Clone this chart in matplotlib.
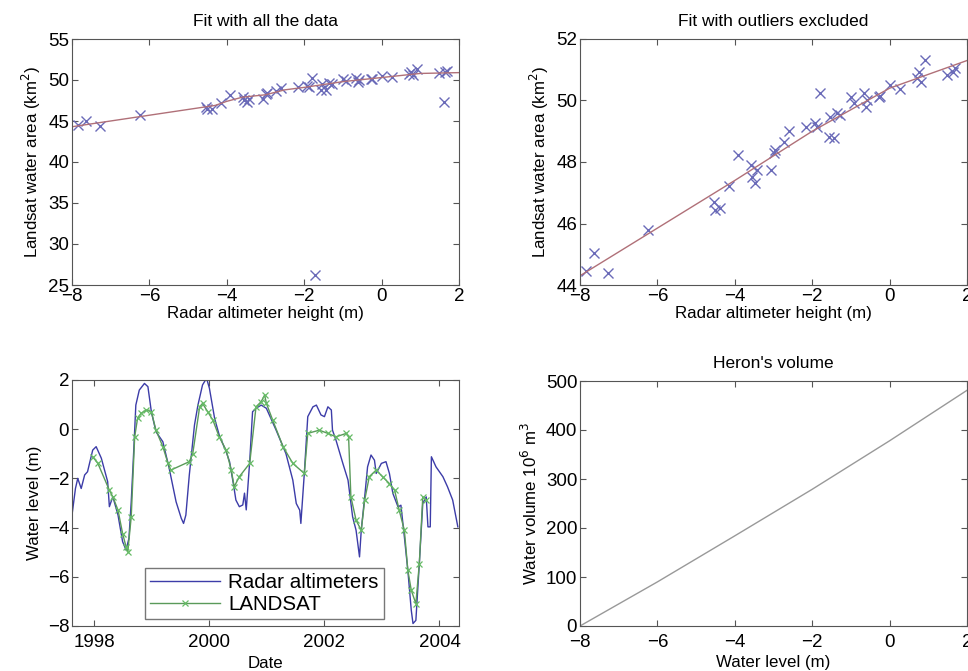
import numpy as np
import matplotlib
matplotlib.use("Agg")
import matplotlib.pyplot as plt

plt.rcParams["font.family"] = ["Liberation Sans", "DejaVu Sans"]

# --- scatter: radar altimeter height (m) vs Landsat water area (km2) ---
radar_h = [-7.85, -7.64, -7.28, -6.24, -4.54, -4.50, -4.37, -4.15, -3.92, -3.59,
           -3.55, -3.47, -3.42, -3.06, -2.99, -2.95, -2.73, -2.60, -2.17, -1.92,
           -1.87, -1.79, -1.57, -1.53, -1.44, -1.36, -1.27, -1.01, -0.93, -0.67,
           -0.62, -0.58, -0.28, -0.24, 0.00, 0.28, 0.71, 0.76, 0.80, 0.92,
           1.48, 1.65, 1.70]
landsat_area = [44.47, 45.03, 44.38, 45.79, 46.71, 46.44, 46.49, 47.23, 48.22, 47.90,
                47.52, 47.33, 47.74, 47.74, 48.28, 48.39, 48.66, 49.01, 49.15, 49.28,
                49.15, 50.23, 48.80, 49.47, 48.77, 49.58, 49.53, 50.12, 49.91, 50.23,
                49.80, 50.02, 50.12, 50.15, 50.50, 50.36, 50.72, 50.94, 50.61, 51.32,
                50.83, 50.94, 51.05]
outlier_h = [-1.72, 1.62]
outlier_area = [26.2, 47.3]

# fitted curves
fit_all_x = [-8, -4.3, -4.0, -3.6, -3.0, -2.5, -2.0, -1.0, 0.0, 1.0, 2.0]
fit_all_y = [44.3, 46.9, 47.4, 47.9, 48.2, 48.8, 49.1, 49.8, 50.3, 50.8, 50.9]
fit_excl_x = [-8, -6, -4, -2, 0, 2]
fit_excl_y = [44.3, 45.85, 47.4, 49.0, 50.4, 51.3]

# --- water level time series ---
radar_t = [1997.61, 1997.67, 1997.71, 1997.77, 1997.83, 1997.88, 1997.97, 1998.03,
           1998.12, 1998.23, 1998.26, 1998.32, 1998.41, 1998.49, 1998.55, 1998.60,
           1998.64, 1998.68, 1998.72, 1998.78, 1998.87, 1998.93, 1998.99, 1999.07,
           1999.19, 1999.30, 1999.36, 1999.42, 1999.51, 1999.55, 1999.59, 1999.65,
           1999.74, 1999.80, 1999.88, 1999.95, 2000.00, 2000.09, 2000.17, 2000.29,
           2000.35, 2000.42, 2000.46, 2000.52, 2000.58, 2000.61, 2000.64, 2000.70,
           2000.75, 2000.81, 2000.90, 2000.99, 2001.16, 2001.33, 2001.45, 2001.51,
           2001.57, 2001.59, 2001.65, 2001.71, 2001.80, 2001.86, 2001.94, 2002.00,
           2002.06, 2002.12, 2002.14, 2002.20, 2002.32, 2002.41, 2002.49, 2002.55,
           2002.61, 2002.64, 2002.70, 2002.75, 2002.81, 2002.87, 2002.90, 2002.99,
           2003.07, 2003.13, 2003.19, 2003.28, 2003.33, 2003.39, 2003.45, 2003.51,
           2003.54, 2003.59, 2003.65, 2003.71, 2003.77, 2003.80, 2003.84, 2003.86,
           2003.94, 2004.06, 2004.14, 2004.23, 2004.32]
radar_lvl = [-3.49, -2.41, -2.00, -2.41, -1.86, -1.73, -0.85, -0.71,
             -1.18, -2.13, -3.15, -2.74, -3.49, -4.57, -4.91, -4.44,
             -2.95, -1.05, 0.98, 1.59, 1.86, 1.73, 0.71, -0.10,
             -0.51, -1.59, -2.27, -2.95, -3.62, -3.83, -3.49, -1.86,
             0.17, 0.98, 1.80, 2.07, 1.66, 0.44, -0.24, -0.91,
             -1.32, -2.27, -2.88, -3.15, -3.08, -2.60, -3.28, -1.32,
             0.71, 0.85, 0.98, 0.85, -0.04, -0.99, -2.07, -3.02,
             -3.29, -3.83, -1.80, 0.51, 0.91, 0.98, 0.58, 0.51,
             0.91, 0.78, -0.04, -0.44, -1.39, -2.07, -3.56, -4.11,
             -5.19, -4.11, -2.75, -1.53, -1.05, -1.26, -1.80, -1.39,
             -1.32, -1.80, -2.61, -3.16, -3.09, -4.38, -5.73, -7.36,
             -7.90, -7.77, -5.46, -3.02, -2.75, -3.97, -3.97, -1.12,
             -1.53, -1.93, -2.34, -2.88, -3.97]

landsat_t = [1997.97, 1998.06, 1998.26, 1998.32, 1998.41, 1998.49, 1998.55, 1998.58,
             1998.64, 1998.70, 1998.75, 1998.81, 1998.90, 1998.99, 1999.07, 1999.19,
             1999.28, 1999.33, 1999.65, 1999.71, 1999.83, 1999.88, 1999.97, 2000.06,
             2000.17, 2000.29, 2000.38, 2000.43, 2000.52, 2000.70, 2000.81, 2000.90,
             2000.96, 2000.99, 2001.10, 2001.28, 2001.45, 2001.65, 2001.71, 2001.91,
             2002.06, 2002.20, 2002.38, 2002.42, 2002.46, 2002.55, 2002.64, 2002.70,
             2002.78, 2002.90, 2003.01, 2003.13, 2003.22, 2003.30, 2003.39, 2003.45,
             2003.51, 2003.59, 2003.65, 2003.71, 2003.77]
landsat_lvl = [-1.12, -1.39, -2.48, -2.75, -3.29, -4.24, -4.78, -4.99,
               -3.56, -0.31, 0.44, 0.64, 0.78, 0.71, -0.04, -0.71,
               -1.39, -1.66, -1.32, -0.99, 0.91, 1.05, 0.71, 0.37,
               -0.31, -0.85, -1.66, -2.34, -1.93, -1.39, 0.91, 1.12,
               1.39, 1.05, 0.37, -0.71, -1.39, -1.80, -0.17, -0.04,
               -0.17, -0.31, -0.17, -0.31, -2.75, -3.70, -4.11, -2.88,
               -1.93, -1.66, -1.93, -2.21, -2.48, -3.29, -4.11, -5.73,
               -6.55, -7.09, -5.46, -2.75, -2.88]

# --- volume curve ---
vol_level = [-8, -6, -4, -2, 0, 2]
vol_volume = [0, 90, 184, 279, 378, 481]

MARK = "#6a6ab8"
FIT = "#b07078"
TITLE_FS = 12.5
LABEL_FS = 12.2
TICK_FS = 13.5

fig = plt.figure(figsize=(9.68, 6.71), dpi=100)
W, H = 968, 671


def add_ax(l, t, r, b):
    return fig.add_axes([l / W, 1 - b / H, (r - l) / W, (b - t) / H])


def style(ax, xpad=2):
    for s in ax.spines.values():
        s.set_color("#555555")
    ax.tick_params(direction="in", top=True, right=True, labelsize=TICK_FS,
                   color="#555555", length=4, pad=2)
    ax.tick_params(axis="x", pad=xpad)


# top-left
ax1 = add_ax(72, 39, 459, 285)
ax1.plot(radar_h + outlier_h, landsat_area + outlier_area, "x", color=MARK,
         markersize=7, mew=1)
ax1.plot(fit_all_x, fit_all_y, "-", color=FIT, lw=1)
ax1.set_xlim(-8, 2)
ax1.set_ylim(25, 55)
ax1.set_yticks(range(25, 56, 5))
ax1.set_title("Fit with all the data", fontsize=TITLE_FS, pad=9)
ax1.set_xlabel("Radar altimeter height (m)", fontsize=LABEL_FS, labelpad=1)
ax1.set_ylabel("Landsat water area (km$^2$)", fontsize=LABEL_FS, labelpad=4)
style(ax1)

# top-right
ax2 = add_ax(580, 39, 967, 285)
ax2.plot(radar_h, landsat_area, "x", color=MARK, markersize=7, mew=1)
ax2.plot(fit_excl_x, fit_excl_y, "-", color=FIT, lw=1)
ax2.set_xlim(-8, 2)
ax2.set_ylim(44, 52)
ax2.set_yticks([44, 46, 48, 50, 52])
ax2.set_title("Fit with outliers excluded", fontsize=TITLE_FS, pad=9)
ax2.set_xlabel("Radar altimeter height (m)", fontsize=LABEL_FS, labelpad=1)
ax2.set_ylabel("Landsat water area (km$^2$)", fontsize=LABEL_FS, labelpad=4)
style(ax2)

# bottom-left
ax3 = add_ax(72, 380, 459, 626)
ax3.plot(radar_t, radar_lvl, "-", color="#3c3ca8", lw=1, label="Radar altimeters")
ax3.plot(landsat_t, landsat_lvl, "-x", color="#5a9a5a", markeredgecolor="#66bb66",
         lw=1, markersize=5, mew=0.9, label="LANDSAT")
ax3.set_xlim(1997.61, 2004.34)
ax3.set_ylim(-8, 2)
ax3.set_xticks([1998, 2000, 2002, 2004])
ax3.set_xticklabels(["1998", "2000", "2002", "2004"])
ax3.set_yticks([-8, -6, -4, -2, 0, 2])
ax3.set_xlabel("Date", fontsize=LABEL_FS, labelpad=3)
ax3.set_ylabel("Water level (m)", fontsize=LABEL_FS, labelpad=4)
leg = ax3.legend(loc="lower left", bbox_to_anchor=(0.188, 0.028), fontsize=14.8,
                 frameon=True, fancybox=False, edgecolor="#555555",
                 handlelength=3.4, borderpad=0.25, labelspacing=0.15,
                 handletextpad=0.4, borderaxespad=0.0)
leg.get_frame().set_linewidth(1.0)
style(ax3, xpad=6)

# bottom-right
ax4 = add_ax(580, 381, 967, 626)
ax4.plot(vol_level, vol_volume, "-", color="#999999", lw=1)
ax4.set_xlim(-8, 2)
ax4.set_ylim(0, 500)
ax4.set_yticks(range(0, 501, 100))
ax4.set_title("Heron's volume", fontsize=TITLE_FS, pad=9)
ax4.set_xlabel("Water level (m)", fontsize=LABEL_FS, labelpad=3)
ax4.set_ylabel("Water volume 10$^6$ m$^3$", fontsize=LABEL_FS, labelpad=4)
style(ax4, xpad=6)

fig.savefig("out.png", dpi=100)
